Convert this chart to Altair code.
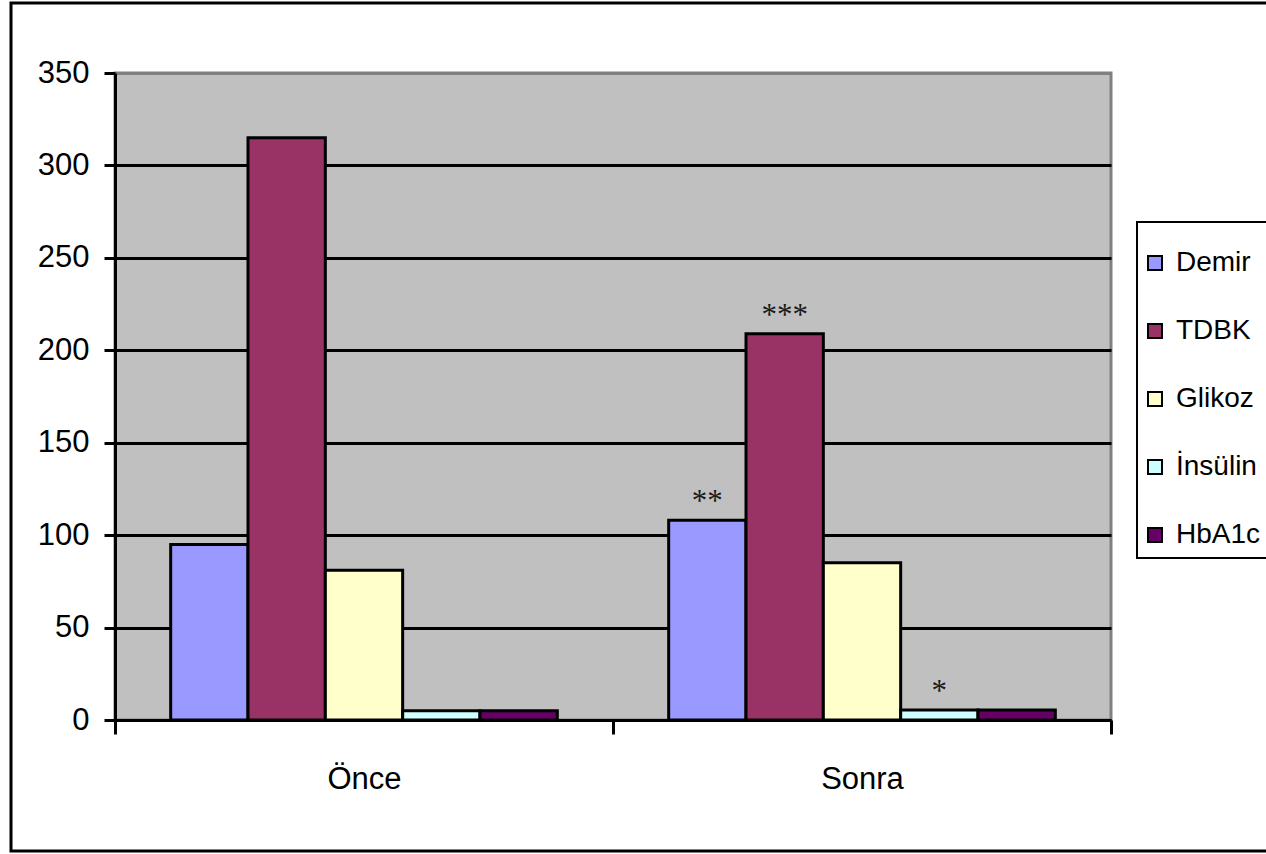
import altair as alt
import pandas as pd

# Measurements before and after, grouped by period
periods = ["Önce", "Sonra"]
series = ["Demir", "TDBK", "Glikoz", "İnsülin", "HbA1c"]
once_values = [95, 315, 81, 5, 5]
sonra_values = [108, 209, 85, 5.4, 5.4]
colors = ["#9999FF", "#993366", "#FFFFCC", "#CCFFFF", "#660066"]

# Significance marks shown above the "Sonra" bars
sig_series = ["Demir", "TDBK", "İnsülin"]
sig_labels = ["**", "***", "*"]

rows = []
for period, vals in zip(periods, [once_values, sonra_values]):
    for s, v in zip(series, vals):
        rows.append({"period": period, "series": s, "value": v})
df = pd.DataFrame(rows)

sig_rows = []
for s, lab in zip(sig_series, sig_labels):
    v = sonra_values[series.index(s)]
    sig_rows.append({"period": "Sonra", "series": s, "value": v, "label": lab})
sig_df = pd.DataFrame(sig_rows)

SANS = "Liberation Sans, Arial, sans-serif"

x_enc = alt.X(
    "period:N",
    sort=periods,
    scale=alt.Scale(paddingInner=0, paddingOuter=0),
    axis=alt.Axis(
        title=None,
        labelAngle=0,
        labelFont=SANS,
        labelFontSize=31,
        labelColor="black",
        labelPadding=30,
        tickBand="extent",
        tickSize=14,
        tickWidth=3,
        tickColor="black",
        domainColor="black",
        domainWidth=3,
        grid=False,
    ),
)
xoff_enc = alt.XOffset(
    "series:N", sort=series, scale=alt.Scale(paddingInner=0, paddingOuter=0.72)
)
y_scale = alt.Scale(domain=[0, 350], nice=False, zero=True)

bars = (
    alt.Chart(df)
    .mark_bar(stroke="black", strokeWidth=3)
    .encode(
        x=x_enc,
        xOffset=xoff_enc,
        y=alt.Y(
            "value:Q",
            stack=None,
            scale=y_scale,
            axis=alt.Axis(
                title=None,
                values=[0, 50, 100, 150, 200, 250, 300, 350],
                labelFont=SANS,
                labelFontSize=31,
                labelColor="black",
                labelPadding=15,
                tickSize=11,
                tickWidth=3,
                tickColor="black",
                domainColor="black",
                domainWidth=3,
                grid=True,
                gridColor=alt.condition(
                    "datum.value == 350", alt.value("#808080"), alt.value("black")
                ),
                gridWidth=3,
            ),
        ),
        color=alt.Color(
            "series:N",
            sort=series,
            scale=alt.Scale(domain=series, range=colors),
            legend=alt.Legend(
                title=None,
                orient="none",
                legendX=1026,
                legendY=176,
                symbolType="square",
                symbolSize=196,
                symbolStrokeColor="black",
                symbolStrokeWidth=2,
                symbolOpacity=1,
                labelFont=SANS,
                labelFontSize=28,
                labelColor="black",
                labelOffset=7,
                rowPadding=40,
                padding=0,
            ),
        ),
    )
)

stars = (
    alt.Chart(sig_df)
    .mark_text(
        font="Liberation Serif, Times New Roman, serif",
        fontSize=31,
        color="#1a1a1a",
        baseline="middle",
        dy=-18,
    )
    .encode(
        x=alt.X("period:N", sort=periods),
        xOffset=alt.XOffset("series:N", sort=series),
        y=alt.Y("value:Q", scale=y_scale),
        text="label:N",
    )
)

# Outer chart border and the box around the legend
frame = (
    alt.Chart(pd.DataFrame({"k": [0]}))
    .mark_rect(filled=False, stroke="black", strokeWidth=3)
    .encode(
        x=alt.value(-104),
        x2=alt.value(1165),
        y=alt.value(-70),
        y2=alt.value(778),
    )
)
legend_box = (
    alt.Chart(pd.DataFrame({"k": [0]}))
    .mark_rect(filled=False, stroke="black", strokeWidth=2)
    .encode(
        x=alt.value(1022),
        x2=alt.value(1170),
        y=alt.value(149),
        y2=alt.value(485),
    )
)

chart = (
    alt.layer(bars, stars, frame, legend_box)
    .properties(
        width=996,
        height=647,
        autosize=alt.AutoSizeParams(type="none"),
        padding={"left": 115, "top": 73, "right": 155, "bottom": 134},
        background="white",
    )
    .configure_view(fill="#C0C0C0", stroke="#808080", strokeWidth=3)
)

chart.save("out.html", embed_options={"renderer": "svg", "actions": False})
